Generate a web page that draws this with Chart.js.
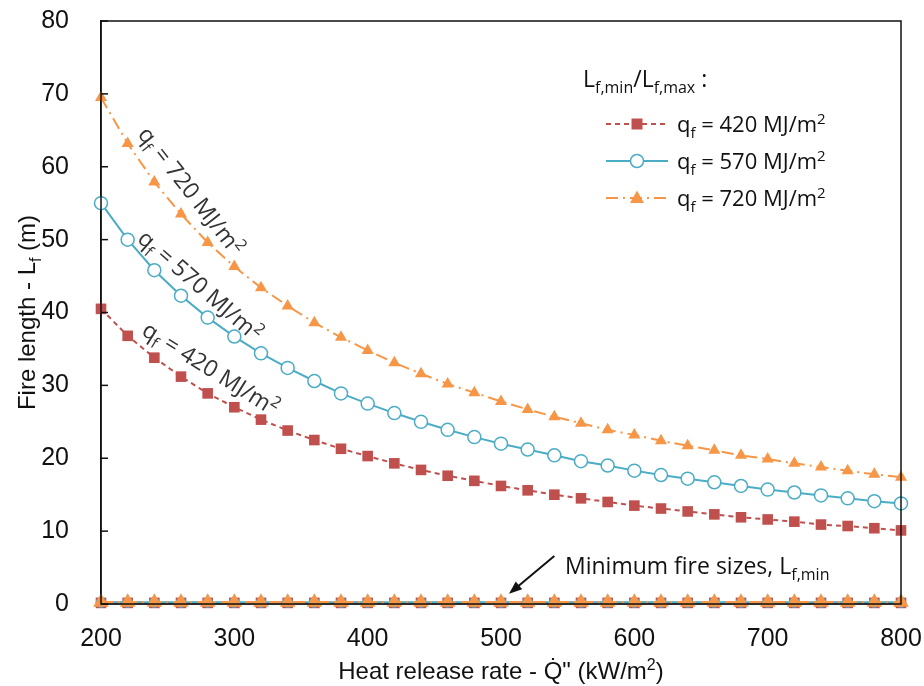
<!DOCTYPE html>
<html>
<head>
<meta charset="utf-8">
<script src="https://cdn.jsdelivr.net/npm/chart.js@4.4.0/dist/chart.umd.min.js"></script>
<style>
  html, body { margin: 0; padding: 0; background: #fff; }
  #wrap { width: 924px; height: 686px; }
</style>
</head>
<body>
<div id="wrap"><canvas id="fire_chart"></canvas></div>
<script>

// heat release rate (kW/m2)
var heat_release = [200,220,240,260,280,300,320,340,360,380,400,420,440,460,480,500,
                    520,540,560,580,600,620,640,660,680,700,720,740,760,780,800];

// maximum fire length (m)
var lf_max_420 = [40.5,36.8,33.8,31.2,28.9,27.0,25.3,23.8,22.5,21.3,20.3,19.3,18.4,17.6,16.9,16.2,
                  15.6,15.0,14.5,14.0,13.5,13.1,12.7,12.3,11.9,11.6,11.3,10.9,10.7,10.4,10.1];
var lf_max_570 = [55.0,50.0,45.8,42.3,39.3,36.7,34.4,32.4,30.6,28.9,27.5,26.2,25.0,23.9,22.9,22.0,
                  21.2,20.4,19.6,19.0,18.3,17.7,17.2,16.7,16.2,15.7,15.3,14.9,14.5,14.1,13.8];
var lf_max_720 = [69.5,63.2,57.9,53.5,49.6,46.3,43.4,40.9,38.6,36.6,34.8,33.1,31.6,30.2,29.0,27.8,
                  26.7,25.7,24.8,23.9,23.2,22.4,21.7,21.1,20.4,19.9,19.3,18.8,18.3,17.8,17.4];

// minimum fire length (m)
var lf_min_420 = [0.15,0.15,0.15,0.15,0.15,0.15,0.15,0.15,0.15,0.15,0.15,0.15,0.15,0.15,0.15,0.15,
                  0.15,0.15,0.15,0.15,0.15,0.15,0.15,0.15,0.15,0.15,0.15,0.15,0.15,0.15,0.15];
var lf_min_570 = [0.2,0.2,0.2,0.2,0.2,0.2,0.2,0.2,0.2,0.2,0.2,0.2,0.2,0.2,0.2,0.2,
                  0.2,0.2,0.2,0.2,0.2,0.2,0.2,0.2,0.2,0.2,0.2,0.2,0.2,0.2,0.2];
var lf_min_720 = [0.25,0.25,0.25,0.25,0.25,0.25,0.25,0.25,0.25,0.25,0.25,0.25,0.25,0.25,0.25,0.25,
                  0.25,0.25,0.25,0.25,0.25,0.25,0.25,0.25,0.25,0.25,0.25,0.25,0.25,0.25,0.25];

var series_names = ['420', '570', '720'];
var series_colors = ['#C0504D', '#4BACC6', '#F79646'];

var AXIS_FONT = '"Liberation Sans", Arial, sans-serif';
var NOTE_FONT = '"Open Sans", "Noto Sans", sans-serif';
var TXT = '#111';

function pts(ys) {
  return heat_release.map(function (x, i) { return { x: x, y: ys[i] }; });
}

// text pieces with sub/superscripts
function richWidth(ctx, parts, size, fam) {
  var w = 0;
  parts.forEach(function (p) {
    var fs = p[1] ? Math.round(size * 0.68) : size;
    ctx.font = fs + 'px ' + fam;
    w += ctx.measureText(p[0]).width;
  });
  return w;
}
function drawRich(ctx, parts, x, y, size, align, fam) {
  fam = fam || NOTE_FONT;
  var w = richWidth(ctx, parts, size, fam);
  var cx = align === 'center' ? x - w / 2 : (align === 'right' ? x - w : x);
  ctx.textBaseline = 'alphabetic';
  ctx.textAlign = 'left';
  parts.forEach(function (p) {
    var fs = p[1] ? Math.round(size * 0.68) : size;
    var dy = p[1] === 'sub' ? size * 0.25 : (p[1] === 'sup' ? -size * 0.38 : 0);
    ctx.font = fs + 'px ' + fam;
    ctx.fillText(p[0], cx, y + dy);
    cx += ctx.measureText(p[0]).width;
  });
}

function qLabel(v) {
  return [['q'], ['f', 'sub'], [' = ' + v + ' MJ/m'], ['2', 'sup']];
}

function drawMarker(ctx, kind, x, y, color) {
  ctx.save();
  ctx.setLineDash([]);
  ctx.fillStyle = color;
  ctx.strokeStyle = color;
  ctx.lineWidth = 1.5;
  if (kind === 'rect') {
    ctx.fillRect(x - 5.5, y - 5.5, 11, 11);
  } else if (kind === 'circle') {
    ctx.fillStyle = '#fff';
    ctx.beginPath(); ctx.arc(x, y, 6.5, 0, Math.PI * 2); ctx.fill(); ctx.stroke();
  } else {
    ctx.beginPath(); ctx.moveTo(x, y - 7.5); ctx.lineTo(x + 7, y + 5); ctx.lineTo(x - 7, y + 5);
    ctx.closePath(); ctx.fill();
  }
  ctx.restore();
}

var series_points = ['rect', 'circle', 'triangle'];
var series_dash = [[5, 4], [], [12, 5, 2, 5]];
var series_radius = [7.5, 6.5, 7];
var min_radius = [7.5, 4.5, 9];

var decorations = {
  id: 'decorations',
  afterDraw: function (chart) {
    var ctx = chart.ctx, a = chart.chartArea;
    var xs = chart.scales.x, ys = chart.scales.y;
    ctx.save();

    // frame
    ctx.strokeStyle = '#111';
    ctx.lineWidth = 1.5;
    ctx.strokeRect(a.left, a.top, a.right - a.left, a.bottom - a.top);

    // inward y ticks
    ys.ticks.forEach(function (t) {
      var py = ys.getPixelForValue(t.value);
      ctx.beginPath(); ctx.moveTo(a.left, py); ctx.lineTo(a.left + 7, py); ctx.stroke();
    });

    ctx.fillStyle = TXT;
    // x title
    drawRich(ctx, [['Heat release rate - Q\u0307" (kW/m'], ['2', 'sup'], [')']],
             (a.left + a.right) / 2, 679, 24, 'center', AXIS_FONT);
    // y title
    ctx.save();
    ctx.translate(35, (a.top + a.bottom) / 2);
    ctx.rotate(-Math.PI / 2);
    drawRich(ctx, [['Fire length - L'], ['f', 'sub'], [' (m)']], 0, 0, 24, 'center', AXIS_FONT);
    ctx.restore();

    // legend
    drawRich(ctx, [['L'], ['f,min', 'sub'], ['/L'], ['f,max', 'sub'], [' :']], 583, 87, 23, 'left');
    for (var i = 0; i < 3; i++) {
      var ly = 124 + i * 37;
      ctx.save();
      ctx.strokeStyle = series_colors[i];
      ctx.lineWidth = 2;
      ctx.setLineDash(series_dash[i]);
      ctx.beginPath(); ctx.moveTo(606, ly); ctx.lineTo(668, ly); ctx.stroke();
      ctx.restore();
      drawMarker(ctx, series_points[i], 637, ly, series_colors[i]);
      ctx.fillStyle = TXT;
      drawRich(ctx, qLabel(series_names[i]), 677, ly + 8, 22, 'left');
    }

    // curve labels, anchored in data units
    var labels = [
      { v: '720', x: 267, y: 56.6, ang: 52 },
      { v: '570', x: 274, y: 43.6, ang: 41 },
      { v: '420', x: 282, y: 32.2, ang: 32 }
    ];
    labels.forEach(function (l) {
      ctx.save();
      ctx.translate(xs.getPixelForValue(l.x), ys.getPixelForValue(l.y));
      ctx.rotate(l.ang * Math.PI / 180);
      ctx.fillStyle = '#333';
      drawRich(ctx, qLabel(l.v), 0, 7, 23, 'center');
      ctx.restore();
    });

    // minimum fire size annotation
    ctx.fillStyle = TXT;
    drawRich(ctx, [['Minimum fire sizes, L'], ['f,min', 'sub']], 565, 574, 23, 'left');
    var tx = xs.getPixelForValue(540), ty = ys.getPixelForValue(6.6);
    var hx = xs.getPixelForValue(506), hy = ys.getPixelForValue(1.4);
    var ang = Math.atan2(hy - ty, hx - tx);
    ctx.strokeStyle = '#111';
    ctx.fillStyle = '#111';
    ctx.lineWidth = 2;
    ctx.beginPath(); ctx.moveTo(tx, ty);
    ctx.lineTo(hx - 8 * Math.cos(ang), hy - 8 * Math.sin(ang)); ctx.stroke();
    ctx.beginPath();
    ctx.moveTo(hx, hy);
    ctx.lineTo(hx - 13 * Math.cos(ang) + 5 * Math.sin(ang), hy - 13 * Math.sin(ang) - 5 * Math.cos(ang));
    ctx.lineTo(hx - 13 * Math.cos(ang) - 5 * Math.sin(ang), hy - 13 * Math.sin(ang) + 5 * Math.cos(ang));
    ctx.closePath(); ctx.fill();

    ctx.restore();
  }
};

var max_sets = [lf_max_420, lf_max_570, lf_max_720];
var min_sets = [lf_min_420, lf_min_570, lf_min_720];
var mydataset = [];
// minimum series: orange drawn last so its triangles sit on top
for (var i = 0; i < 3; i++) {
  mydataset.push({
    label: 'min ' + series_names[i],
    data: pts(min_sets[i]),
    borderColor: series_colors[i],
    backgroundColor: i === 1 ? '#fff' : series_colors[i],
    borderWidth: 2.5,
    borderDash: i === 1 ? [] : series_dash[i],
    pointStyle: series_points[i],
    pointRadius: min_radius[i],
    pointBorderWidth: i === 1 ? 1.5 : 0,
    pointBorderColor: series_colors[i],
    pointBackgroundColor: i === 1 ? '#fff' : series_colors[i],
    clip: false,
    order: 10 - i
  });
}
for (var j = 0; j < 3; j++) {
  mydataset.push({
    label: 'q = ' + series_names[j],
    data: pts(max_sets[j]),
    borderColor: series_colors[j],
    backgroundColor: j === 1 ? '#fff' : series_colors[j],
    borderWidth: 2,
    borderDash: series_dash[j],
    pointStyle: series_points[j],
    pointRadius: series_radius[j],
    pointBorderWidth: j === 1 ? 1.5 : 0,
    pointBorderColor: series_colors[j],
    pointBackgroundColor: j === 1 ? '#fff' : series_colors[j],
    clip: false,
    order: 3 - j
  });
}

const config = {
  type: 'line',
  data: { datasets: mydataset },
  options: {
    responsive: true,
    maintainAspectRatio: false,
    animation: false,
    layout: { padding: { left: 0, right: 23, top: 21, bottom: 0 } },
    plugins: {
      legend: { display: false },
      tooltip: { enabled: false }
    },
    scales: {
      x: {
        type: 'linear',
        min: 200,
        max: 800,
        ticks: { stepSize: 100, color: TXT, padding: 12, font: { family: AXIS_FONT, size: 25 } },
        grid: { display: false },
        border: { display: true, color: '#111', width: 1.5 },
        afterFit: function (s) { s.height = 82; s.paddingLeft = 0; s.paddingRight = 0; }
      },
      y: {
        min: 0,
        max: 80,
        ticks: { stepSize: 10, color: TXT, padding: 24, font: { family: AXIS_FONT, size: 25 } },
        grid: { display: false },
        border: { display: true, color: '#111', width: 1.5 },
        afterFit: function (s) { s.width = 101; s.paddingTop = 0; s.paddingBottom = 0; }
      }
    }
  },
  plugins: [decorations]
};

const myChart = new Chart(document.getElementById('fire_chart'), config);
</script>
</body>
</html>
